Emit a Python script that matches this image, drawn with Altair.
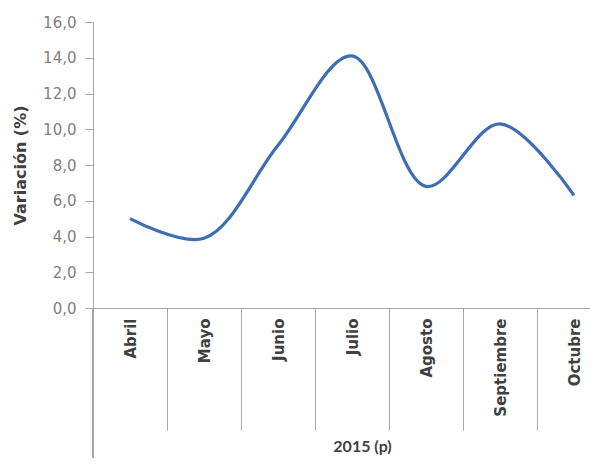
import altair as alt
import pandas as pd

months = ["Abril", "Mayo", "Junio", "Julio", "Agosto", "Septiembre", "Octubre"]
values = [5.0, 3.9, 9.1, 14.1, 6.8, 10.3, 6.3]
y_ticks = [0, 2, 4, 6, 8, 10, 12, 14, 16]

df = pd.DataFrame({"mes": months, "var": values})

FONT = "DejaVu Sans"
AXIS_GRAY = "#A6A6A6"

line = alt.Chart(df).mark_line(
    interpolate="catmull-rom", color="#3D6DB2", strokeWidth=3.2
).encode(
    x=alt.X(
        "mes:N",
        sort=months,
        bandPosition=0.5,
        scale=alt.Scale(type="band", range=[0, 518], paddingInner=0, paddingOuter=0),
        axis=alt.Axis(
            title="2015 (p)",
            titleX=269,
            titleY=143,
            titleAlign="center",
            titleBaseline="alphabetic",
            titleFont="Lato",
            titleFontSize=16,
            titleFontWeight="bold",
            titleColor="#404040",
            labelAngle=-90,
            labelAlign="right",
            labelBaseline="middle",
            labelPadding=-112,
            labelFont=FONT,
            labelFontSize=15,
            labelFontWeight="bold",
            labelColor="#404040",
            tickBand="extent",
            tickSize=122,
            tickColor=AXIS_GRAY,
            domainColor=AXIS_GRAY,
            grid=False,
        ),
    ),
    y=alt.Y(
        "var:Q",
        scale=alt.Scale(domain=[0, 16], nice=False),
        axis=alt.Axis(
            title="Variación (%)",
            values=y_ticks,
            labelExpr="replace(format(datum.value, '.1f'), '.', ',')",
            titleX=-73,
            titleY=143,
            titleAngle=-90,
            titleAlign="center",
            titleBaseline="middle",
            titleFont=FONT,
            titleFontSize=16,
            titleFontWeight="bold",
            titleColor="#404040",
            labelFont=FONT,
            labelFontSize=15,
            labelColor="#7F7F7F",
            labelPadding=9,
            tickSize=8,
            tickColor=AXIS_GRAY,
            domainColor=AXIS_GRAY,
            grid=False,
        ),
    ),
)

left_ext = alt.Chart(df).mark_rule(color=AXIS_GRAY, strokeWidth=1).encode(
    x=alt.value(0), y=alt.value(286), y2=alt.value(450)
)

chart = alt.layer(left_ext, line).properties(
    width=497,
    height=286,
    padding={"left": 85, "top": 14, "right": 0, "bottom": 150},
    autosize=alt.AutoSizeParams(type="none"),
    background="white",
).configure_view(stroke=None)

chart.save("out.html", embed_options={"renderer": "svg", "actions": False})
